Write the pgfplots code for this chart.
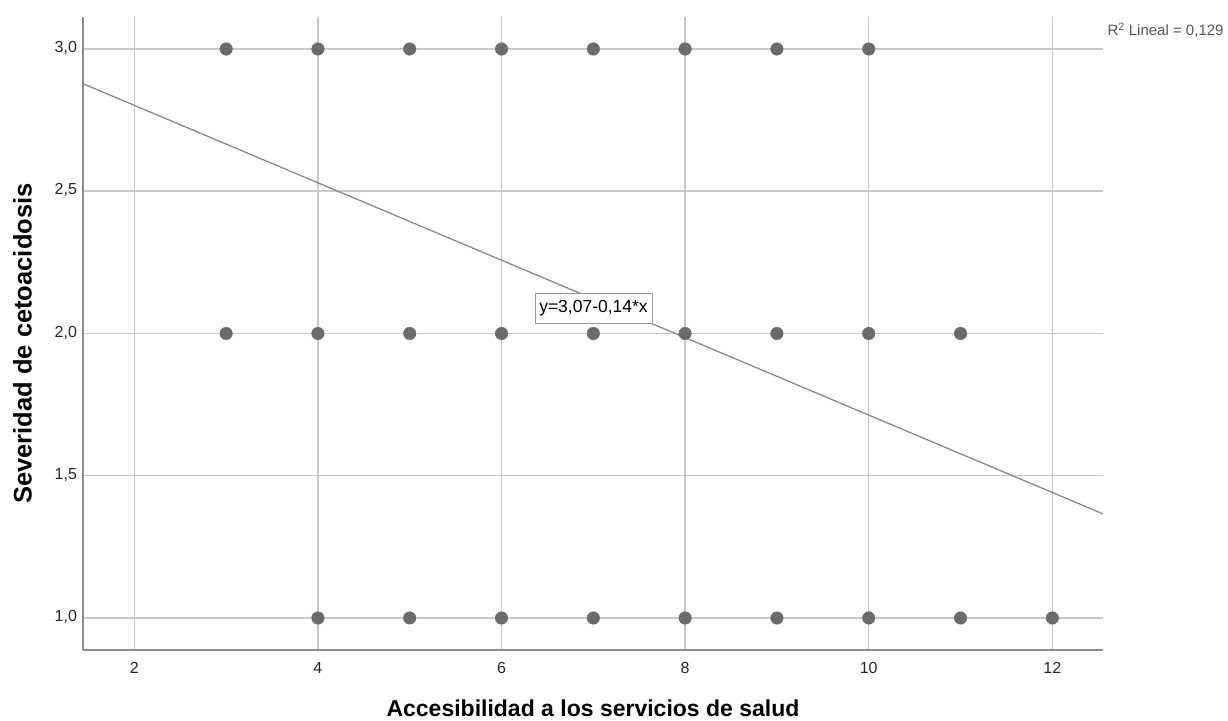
\documentclass[border=0pt]{standalone}
\usepackage{fontspec}
\setmainfont{Liberation Sans}
\usepackage{pgfplots}
\pgfplotsset{compat=1.18}
\definecolor{gridgray}{HTML}{C8C8C8}
\definecolor{axisgray}{HTML}{8C8C8C}
\definecolor{dotgray}{HTML}{6B6B6B}
\definecolor{fitgray}{HTML}{8A8A8A}
\definecolor{textgray}{HTML}{555555}
\definecolor{boxgray}{HTML}{9A9A9A}

\begin{document}
\begin{tikzpicture}[x=1pt,y=1pt]
\path[use as bounding box] (0,0) rectangle (1228,720);
\begin{axis}[
  at={(83pt,70pt)}, anchor=south west,
  scale only axis, width=1020pt, height=633pt,
  xmin=1.441, xmax=12.552, ymin=0.8875, ymax=3.1125,
  axis x line*=bottom, axis y line*=left,
  axis line style={axisgray, line width=2pt, -},
  xtick={2,4,6,8,10,12},
  ytick={1,1.5,2,2.5,3},
  yticklabels={{1,0},{1,5},{2,0},{2,5},{3,0}},
  grid=major, major grid style={gridgray, line width=1.5pt},
  major tick length=0pt,
  /pgf/number format/assume math mode=true,
  tick label style={font=\fontsize{16}{19}\selectfont, text=black!85},
  xticklabel style={anchor=center, yshift=-18pt},
  yticklabel style={anchor=east, xshift=-2.5pt, yshift=1pt},
  xlabel={Accesibilidad a los servicios de salud},
  ylabel={Severidad de cetoacidosis},
  xlabel style={font=\fontsize{23}{27}\bfseries, text=black,
                at={(axis description cs:0.5,0)}, anchor=center, yshift=-58pt},
  ylabel style={font=\fontsize{25.5}{30}\bfseries, text=black,
                at={(axis description cs:-0.0593,0.4842)}, anchor=center},
]
% observed cases
\addplot[only marks, mark=*, mark size=6.3pt, draw=dotgray, fill=dotgray] coordinates {
  (3,3) (4,3) (5,3) (6,3) (7,3) (8,3) (9,3) (10,3)
  (3,2) (4,2) (5,2) (6,2) (7,2) (8,2) (9,2) (10,2) (11,2)
  (4,1) (5,1) (6,1) (7,1) (8,1) (9,1) (10,1) (11,1) (12,1)
};
% linear fit y = 3.07 - 0.14 x
\addplot[fitgray, line width=1.3pt] coordinates {(1.441,2.878) (12.552,1.366)};
\node[draw=boxgray, line width=1pt, fill=white, font=\fontsize{17.5}{21}\selectfont,
      minimum width=117pt, minimum height=30pt, inner sep=0pt]
  at (axis cs:7.002,2.0896) {y=3,07-0,14*x};
\end{axis}
\node[anchor=base west, xshift=1pt, yshift=-19pt, font=\fontsize{15}{18}\selectfont, text=textgray]
  at (current axis.north east) {R\textsuperscript{2} Lineal = 0,129};
\end{tikzpicture}
\end{document}
